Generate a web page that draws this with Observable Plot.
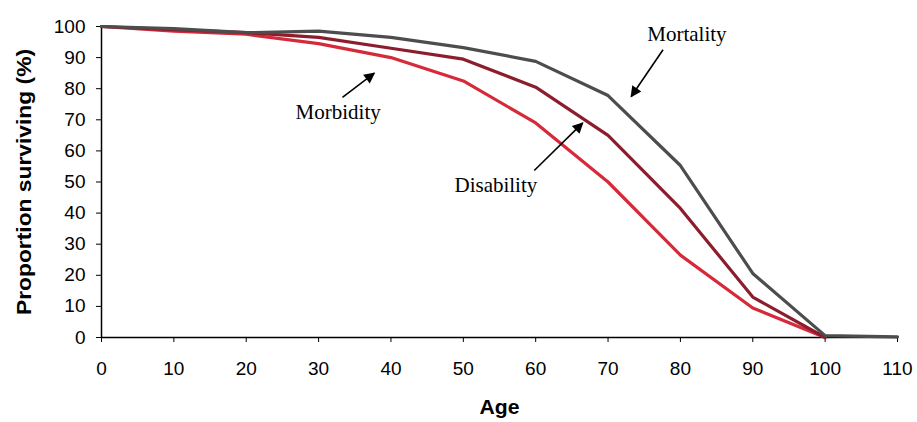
<!DOCTYPE html>
<html><head><meta charset="utf-8">
<script src="https://cdn.jsdelivr.net/npm/d3@7"></script>
<script src="https://cdn.jsdelivr.net/npm/@observablehq/plot@0.6"></script>
<style>body{margin:0;background:#fff}</style>
</head><body><div id="chart"></div>
<script>
const ages = [0, 10, 20, 30, 40, 50, 60, 70, 80, 90, 100, 110];
const morbidity = [100, 98.5, 97.5, 94.5, 90, 82.5, 69, 50, 26.5, 9.5, 0];
const disability = [100, 99, 98, 96.5, 93, 89.5, 80.5, 65, 41.5, 13, 0];
const mortality = [100, 99.3, 98, 98.5, 96.5, 93.2, 88.8, 77.8, 55.3, 20.6, 0.6, 0.2];
const seriesNames = ["Morbidity", "Disability", "Mortality"];
const seriesColors = ["#d62a3a", "#8c1d2c", "#4d4d4d"];
const xTicks = [0, 10, 20, 30, 40, 50, 60, 70, 80, 90, 100, 110];
const yTicks = [0, 10, 20, 30, 40, 50, 60, 70, 80, 90, 100];
const xTitle = "Age";
const yTitle = "Proportion surviving (%)";
const labelX = [32.7, 54.5, 80.9];
const labelY = [72.4, 49.1, 97.6];
const arrowX1 = [33.3, 59.8, 77.6];
const arrowY1 = [77.2, 53.7, 92.5];
const arrowX2 = [37.7, 66.5, 73.2];
const arrowY2 = [85, 69, 77.5];

const seriesValues = [morbidity, disability, mortality];
const rows = [];
seriesNames.forEach((s, i) => seriesValues[i].forEach((v, j) => rows.push({series: s, age: ages[j], value: v})));
const labels = seriesNames.map((s, i) => ({text: s, x: labelX[i], y: labelY[i]}));
const arrows = seriesNames.map((s, i) => ({x1: arrowX1[i], y1: arrowY1[i], x2: arrowX2[i], y2: arrowY2[i]}));

const chart = Plot.plot({
  width: 917,
  height: 422,
  marginLeft: 101,
  marginRight: 20,
  marginTop: 26,
  marginBottom: 85,
  style: {fontFamily: "'Liberation Sans', Arial, sans-serif", fontSize: "19px", color: "#000", background: "#fff"},
  x: {domain: [0, 110]},
  y: {domain: [0, 100]},
  color: {domain: seriesNames, range: seriesColors},
  marks: [
    Plot.axisX({ticks: xTicks, tickSize: 5, tickPadding: 19, label: xTitle, labelAnchor: "center", labelOffset: 76, tickFormat: d => String(d)}),
    Plot.axisY({ticks: yTicks, tickSize: 5, tickPadding: 11, label: yTitle, labelAnchor: "center", labelOffset: 85, tickFormat: d => String(d)}),
    Plot.ruleY([0], {stroke: "#000", strokeWidth: 1.5}),
    Plot.ruleX([0], {stroke: "#000", strokeWidth: 1.5}),
    Plot.line(rows, {x: "age", y: "value", z: "series", stroke: "series", strokeWidth: 3.2}),
    Plot.link(arrows, {x1: "x1", y1: "y1", x2: "x2", y2: "y2", stroke: "#000", strokeWidth: 1.6}),
    Plot.text(labels, {x: "x", y: "y", text: "text", fontFamily: "'Liberation Serif', 'Times New Roman', serif", fontSize: 21, fill: "#000"})
  ]
});
document.getElementById("chart").appendChild(chart);

const svg = d3.select(chart);
const defs = svg.append("defs");
defs.append("marker").attr("id", "ah").attr("viewBox", "0 0 10 10").attr("refX", 9).attr("refY", 5)
  .attr("markerWidth", 13).attr("markerHeight", 11).attr("markerUnits", "userSpaceOnUse").attr("orient", "auto")
  .append("path").attr("d", "M0,0L10,5L0,10Z").attr("fill", "#000");
svg.selectAll('g[aria-label="link"] path').attr("marker-end", "url(#ah)");

svg.selectAll('g[aria-label="x-axis tick label"] text, g[aria-label="y-axis tick label"] text').attr("fill", "#000");
svg.selectAll('g[aria-label="x-axis label"] text').text(xTitle).attr("font-weight", "bold").attr("font-size", 21).attr("fill", "#000").attr("textLength", 40).attr("lengthAdjust", "spacingAndGlyphs");
svg.selectAll('g[aria-label="y-axis label"] text').text(yTitle).attr("font-weight", "bold").attr("font-size", 21).attr("fill", "#000").attr("textLength", 266).attr("lengthAdjust", "spacingAndGlyphs");
</script>
</body></html>
